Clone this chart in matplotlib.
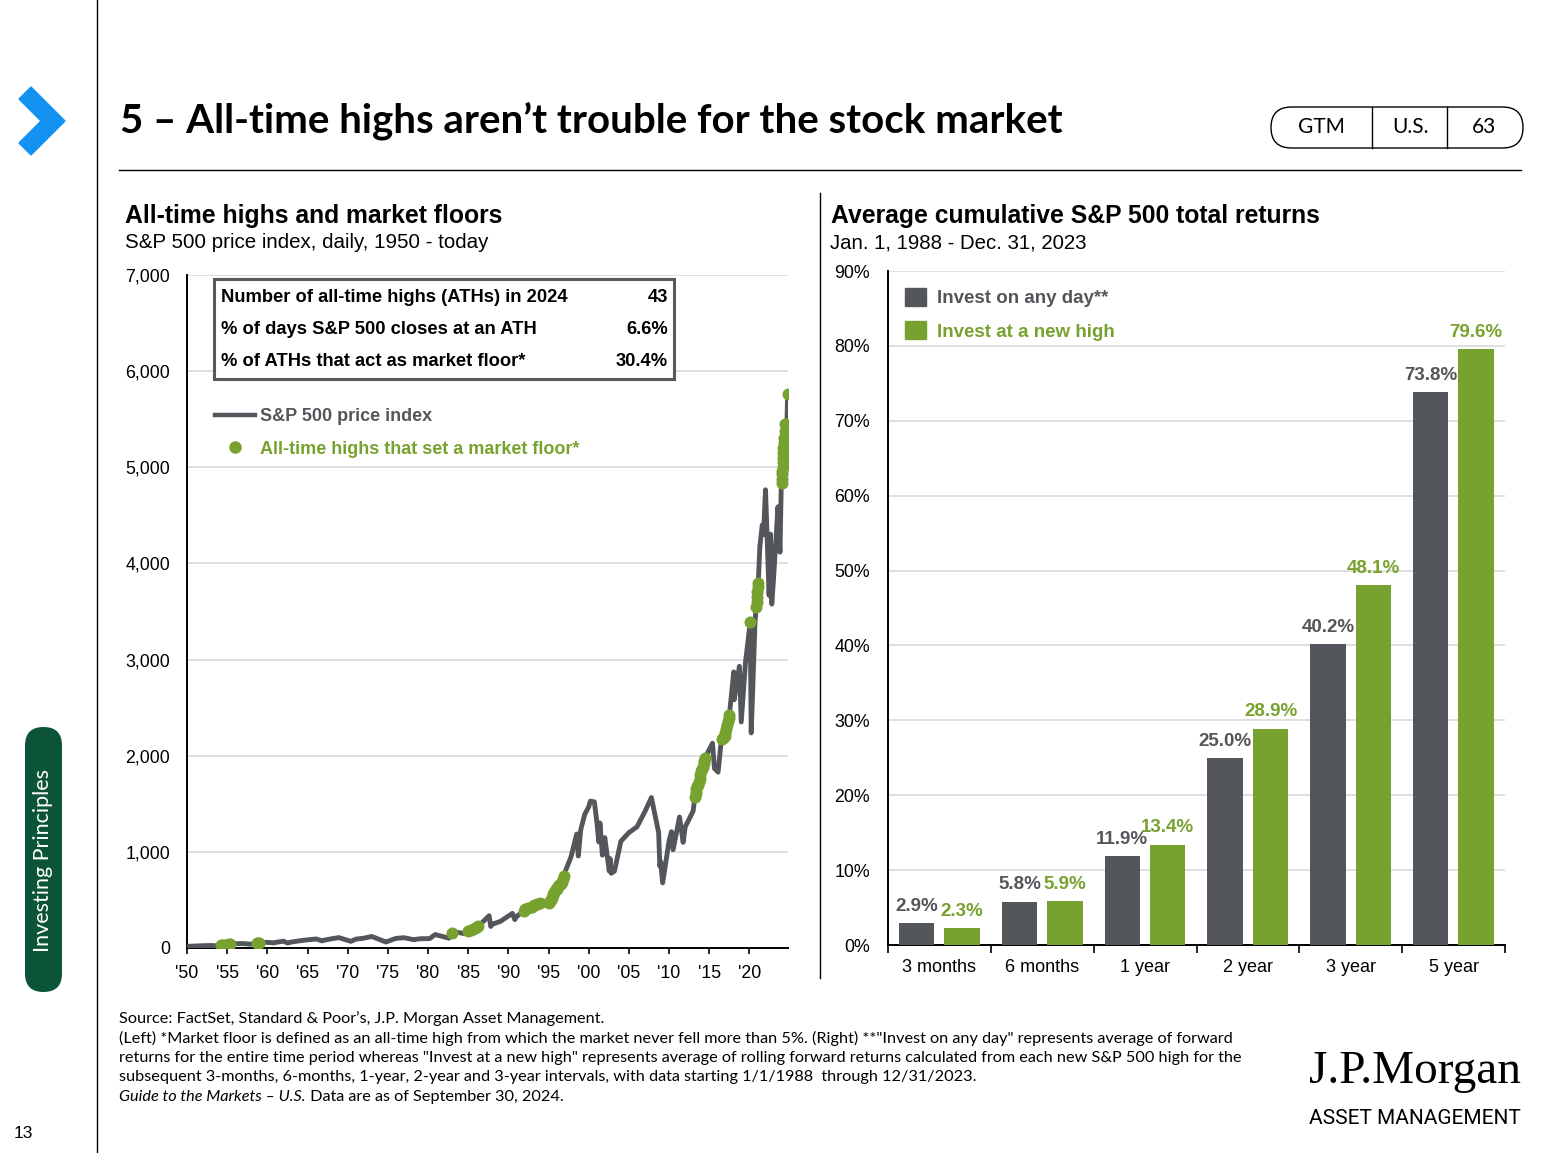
import matplotlib
matplotlib.use("Agg")
import matplotlib.pyplot as plt
from matplotlib.patches import FancyBboxPatch, Polygon, Rectangle, Patch
from matplotlib.lines import Line2D

W, H = 1548, 1153
GRAY = "#53565a"
GREEN = "#78a22f"
GRID = "#d9d9d9"

# S&P 500 price index (year, level)
sp_years = [1950.0, 1951.0, 1952.0, 1953.0, 1953.7, 1954.0, 1955.6, 1956.0, 1957.0, 1957.8,
            1958.0, 1959.5, 1960.0, 1960.8, 1961.0, 1962.0, 1962.5, 1963.0, 1964.0, 1965.0,
            1966.1, 1966.8, 1967.0, 1968.0, 1968.9, 1970.4, 1971.0, 1972.0, 1973.0, 1974.75,
            1975.0, 1976.0, 1977.0, 1978.2, 1979.0, 1980.2, 1980.9, 1982.6, 1983.5, 1984.5,
            1986.5, 1987.6, 1987.8, 1988.0, 1989.0, 1990.5, 1990.8, 1991.0, 1994.5, 1994.9,
            1997.0, 1997.8, 1998.5, 1998.7, 1999.0, 1999.5, 2000.0, 2000.2, 2000.7, 2001.0,
            2001.25, 2001.4, 2001.7, 2002.0, 2002.55, 2002.65, 2002.8, 2003.2, 2004.0, 2005.0,
            2006.0, 2007.0, 2007.8, 2008.5, 2008.7, 2008.85, 2008.95, 2009.2, 2010.0, 2010.3,
            2010.5, 2011.3, 2011.75, 2012.0, 2013.0, 2015.4, 2015.65, 2016.1, 2016.4, 2018.05,
            2018.1, 2018.75, 2018.98, 2019.5, 2020.22, 2020.7, 2021.3, 2021.6, 2021.75, 2022.0,
            2022.45, 2022.62, 2022.78, 2023.0, 2023.55, 2023.8, 2023.95, 2024.3, 2024.6]
sp_values = [17, 21, 24, 26, 23, 25, 43, 45, 46, 40,
             41, 57, 59, 53, 58, 71, 52, 62, 75, 85,
             94, 74, 80, 96, 108, 69, 92, 102, 120, 62,
             70, 100, 107, 87, 96, 98, 140, 102, 165, 150,
             245, 336, 224, 247, 277, 360, 295, 326, 455, 455,
             780, 950, 1186, 957, 1229, 1390, 1469, 1527, 1520, 1320,
             1103, 1300, 965, 1148, 800, 930, 777, 800, 1110, 1200,
             1260, 1420, 1565, 1280, 1200, 850, 900, 677, 1115, 1210,
             1022, 1363, 1099, 1258, 1426, 2130, 1867, 1829, 2080, 2872,
             2581, 2930, 2351, 2964, 2237, 3400, 4180, 4400, 4300, 4766,
             3667, 4305, 3577, 3840, 4589, 4117, 4770, 4967, 5186]

# all-time highs that acted as a market floor
floor_years = [1954.2, 1954.4, 1954.6, 1954.8, 1955.0, 1955.2, 1955.4,
               1958.7, 1958.85, 1959.0,
               1983.0, 1985.0, 1985.3, 1985.6, 1985.9, 1986.05, 1986.2,
               1991.9, 1992.1, 1992.4, 1992.9, 1993.2, 1993.6, 1993.9,
               1995.1, 1995.2, 1995.3, 1995.4, 1995.5, 1995.6, 1995.7, 1995.8, 1995.9,
               1996.0, 1996.1, 1996.2, 1996.3, 1996.5, 1996.7, 1996.8, 1996.9,
               2013.2, 2013.3, 2013.4, 2013.5, 2013.6, 2013.7, 2013.8, 2013.9, 2014.0,
               2014.1, 2014.2, 2014.3, 2014.4, 2014.5,
               2016.55, 2016.7, 2016.9, 2017.0, 2017.1, 2017.2, 2017.3, 2017.4, 2017.5,
               2020.1, 2020.85, 2020.9, 2020.95, 2021.0, 2021.05, 2021.1,
               2024.02, 2024.05, 2024.08, 2024.1, 2024.13, 2024.15, 2024.18, 2024.2,
               2024.23, 2024.25, 2024.35, 2024.4, 2024.45, 2024.75]
floor_values = [29, 31, 33, 35, 36, 37, 40,
                50, 52, 55,
                160, 180, 190, 200, 210, 215, 230,
                385, 405, 415, 430, 445, 455, 470,
                470, 485, 500, 525, 550, 565, 580, 595, 610,
                615, 625, 645, 660, 670, 690, 720, 750,
                1570, 1610, 1650, 1680, 1700, 1730, 1760, 1800, 1840,
                1860, 1880, 1920, 1950, 1980,
                2170, 2185, 2200, 2240, 2280, 2320, 2360, 2390, 2420,
                3390, 3550, 3600, 3650, 3700, 3760, 3800,
                4840, 4880, 4930, 4960, 5000, 5050, 5100, 5150,
                5200, 5250, 5300, 5380, 5450, 5762]

year_ticks = list(range(1950, 2021, 5))
year_labels = ["'" + str(y)[2:] for y in year_ticks]

# right panel
periods = ["3 months", "6 months", "1 year", "2 year", "3 year", "5 year"]
any_day = [2.9, 5.8, 11.9, 25.0, 40.2, 73.8]
new_high = [2.3, 5.9, 13.4, 28.9, 48.1, 79.6]

table_rows = ["Number of all-time highs (ATHs) in 2024",
              "% of days S&P 500 closes at an ATH",
              "% of ATHs that act as market floor*"]
table_vals = ["43", "6.6%", "30.4%"]

footnotes = [
    "Source: FactSet, Standard & Poor\u2019s, J.P. Morgan Asset Management.",
    "(Left) *Market floor is defined as an all-time high from which the market never fell more than 5%. (Right) **\"Invest on any day\" represents average of forward",
    "returns for the entire time period whereas \"Invest at a new high\" represents average of rolling forward returns calculated from each new S&P 500 high for the",
    "subsequent 3-months, 6-months, 1-year, 2-year and 3-year intervals, with data starting 1/1/1988  through 12/31/2023.",
]

plt.rcParams["font.family"] = ["Liberation Sans", "DejaVu Sans"]
CAL = ["Lato", "DejaVu Sans"]

fig = plt.figure(figsize=(W / 100, H / 100), dpi=100)


def box(x0, y0, x1, y1):
    return [x0 / W, 1 - y1 / H, (x1 - x0) / W, (y1 - y0) / H]


# ---------- left chart ----------
ax = fig.add_axes(box(187, 275, 788, 948))
line = sorted(zip(sp_years + floor_years, sp_values + floor_values))
ax.plot([p[0] for p in line], [p[1] for p in line], color=GRAY, lw=3.5, zorder=3)
ax.scatter(floor_years, floor_values, s=75, color=GREEN, zorder=4, linewidths=0)
ax.set_xlim(1950, 2024.8)
ax.set_ylim(0, 7000)
ax.set_yticks(range(0, 7001, 1000))
ax.set_yticklabels([f"{v:,}" for v in range(0, 7001, 1000)], fontsize=12.8)
ax.set_xticks(year_ticks)
ax.set_xticklabels(year_labels, fontsize=12.8)
ax.tick_params(axis="y", length=0, pad=12)
ax.tick_params(axis="x", length=4, width=1.2, direction="out", pad=8)
ax.grid(axis="y", color=GRID, lw=1.2)
ax.set_axisbelow(True)
for s in ["top", "right"]:
    ax.spines[s].set_visible(False)
for s in ["left", "bottom"]:
    ax.spines[s].set_linewidth(1.4)

h_line = Line2D([], [], color=GRAY, lw=3.2)
h_dot = Line2D([], [], color=GREEN, marker="o", ls="none", markersize=8)
ax.legend([h_line, h_dot], ["S&P 500 price index", "All-time highs that set a market floor*"],
          loc="upper left", bbox_to_anchor=(0.02, 0.826), frameon=False,
          handlelength=2.2, handletextpad=0.3, labelspacing=0.85,
          prop={"weight": "bold", "size": 13}, labelcolor=[GRAY, GREEN])

# ---------- right chart ----------
ax2 = fig.add_axes(box(888, 271, 1505, 945))
xs = list(range(len(periods)))
bw = 0.345
ax2.bar([x - 0.222 for x in xs], any_day, bw, color=GRAY, zorder=3)
ax2.bar([x + 0.22 for x in xs], new_high, bw, color=GREEN, zorder=3)
for x, a, n in zip(xs, any_day, new_high):
    ax2.text(x - 0.222, a + 1.1, f"{a:.1f}%", ha="center", va="bottom",
             color=GRAY, fontsize=13.5, fontweight="bold")
    ax2.text(x + 0.22, n + 1.1, f"{n:.1f}%", ha="center", va="bottom",
             color=GREEN, fontsize=13.5, fontweight="bold")
ax2.set_xlim(-0.5, len(periods) - 0.5)
ax2.set_ylim(0, 90)
ax2.set_yticks(range(0, 91, 10))
ax2.set_yticklabels([f"{v}%" for v in range(0, 91, 10)], fontsize=12.8)
ax2.set_xticks(xs)
ax2.set_xticklabels(periods, fontsize=13)
ax2.set_xticks([x - 0.5 for x in range(len(periods) + 1)], minor=True)
ax2.tick_params(axis="x", which="major", length=0, pad=10)
ax2.tick_params(axis="x", which="minor", length=6, width=1.2, direction="out")
ax2.tick_params(axis="y", length=0, pad=13)
ax2.grid(axis="y", color=GRID, lw=1.2)
ax2.set_axisbelow(True)
for s in ["top", "right"]:
    ax2.spines[s].set_visible(False)
for s in ["left", "bottom"]:
    ax2.spines[s].set_linewidth(1.4)
ax2.legend([Patch(color=GRAY), Patch(color=GREEN)], ["Invest on any day**", "Invest at a new high"],
           loc="upper left", bbox_to_anchor=(0.0, 1.0), frameon=False,
           handlelength=1.1, handleheight=1.1, handletextpad=0.6, labelspacing=0.75,
           prop={"weight": "bold", "size": 13.5}, labelcolor=[GRAY, GREEN])

# ---------- page decorations (pixel coordinates) ----------
ov = fig.add_axes([0, 0, 1, 1], zorder=10)
ov.set_xlim(0, W)
ov.set_ylim(H, 0)
ov.axis("off")

ov.add_patch(Polygon([(19, 99), (31, 87), (65, 121), (31, 155), (19, 143), (41, 121)],
                     closed=True, color="#1492f2"))
ov.plot([97, 97], [0, H], color="black", lw=1)
ov.plot([119, 1521], [170, 170], color="black", lw=1)
ov.plot([820, 820], [193, 978], color="black", lw=1)

ov.text(120, 121, "5 \u2013 All-time highs aren\u2019t trouble for the stock market",
        fontsize=29, fontweight="bold", family=CAL, va="center", ha="left")

ov.add_patch(FancyBboxPatch((1271, 107), 252, 41, boxstyle="round,pad=0,rounding_size=20.5",
                            fc="white", ec="black", lw=1))
ov.plot([1372, 1372], [107, 148], color="black", lw=1)
ov.plot([1447, 1447], [107, 148], color="black", lw=1)
for cx, t in [(1321, "GTM"), (1410, "U.S."), (1484, "63")]:
    ov.text(cx, 127, t, fontsize=15, family=CAL, ha="center", va="center")

ov.add_patch(FancyBboxPatch((25, 727), 37, 265, boxstyle="round,pad=0,rounding_size=18.5",
                            fc="#0b5437", ec="none"))
ov.text(43, 860, "Investing Principles", rotation=90, color="white", fontsize=15.5,
        family=CAL, ha="center", va="center")
ov.text(14, 1134, "13", fontsize=12.5, ha="left", va="center")

ov.text(125, 216, "All-time highs and market floors", fontsize=17.8, fontweight="bold", va="center")
ov.text(125, 243, "S&P 500 price index, daily, 1950 - today", fontsize=14.8, va="center")
ov.text(831, 216, "Average cumulative S&P 500 total returns", fontsize=17.8, fontweight="bold", va="center")
ov.text(830, 243, "Jan. 1, 1988 - Dec. 31, 2023", fontsize=14.7, va="center")

ov.add_patch(Rectangle((214, 279), 460, 100, fc="white", ec="#595959", lw=2.2))
for ry, lab, val in zip([298, 329, 361], table_rows, table_vals):
    ov.text(221, ry, lab, fontsize=13.2, fontweight="bold", va="center", ha="left")
    ov.text(668, ry, val, fontsize=13.2, fontweight="bold", va="center", ha="right")

for fy, t in zip([1019, 1038, 1058, 1077], footnotes):
    ov.text(119, fy, t, fontsize=11.7, family=CAL, va="center", ha="left")
t5 = ov.text(119, 1097, "Guide to the Markets \u2013 U.S.", fontsize=11.7, style="italic",
             family=CAL, va="center", ha="left")
ov.annotate(" Data are as of September 30, 2024.", xy=(1, 0.5), xycoords=t5, fontsize=11.7,
            family=CAL, va="center", ha="left")

ov.text(1521, 1072, "J.P.Morgan", fontsize=34, family=["Liberation Serif", "DejaVu Serif"],
        ha="right", va="center")
ov.text(1521, 1118, "ASSET MANAGEMENT", fontsize=15, family=["Roboto", "DejaVu Sans"],
        ha="right", va="center")

fig.savefig("out.png", dpi=100)
